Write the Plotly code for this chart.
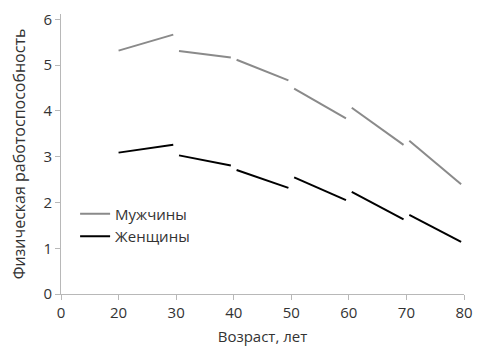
import plotly.graph_objects as go

age_labels = ["0", "20", "30", "40", "50", "60", "70", "80"]
# each segment spans one age interval: (start value, end value)
men_start = [5.32, 5.31, 5.12, 4.49, 4.07, 3.35]
men_end = [5.67, 5.17, 4.67, 3.84, 3.26, 2.40]
women_start = [3.09, 3.03, 2.71, 2.55, 2.23, 1.73]
women_end = [3.26, 2.81, 2.32, 2.05, 1.63, 1.14]

gap = 0.05


def build(starts, ends):
    xs, ys = [], []
    for i, (a, b) in enumerate(zip(starts, ends)):
        x0 = i + 1 + (0 if i == 0 else gap)
        x1 = i + 2 - gap
        xs += [x0, x1, None]
        ys += [a, b, None]
    return xs, ys


fig = go.Figure()
mx, my = build(men_start, men_end)
wx, wy = build(women_start, women_end)
fig.add_trace(go.Scatter(x=mx, y=my, mode="lines", name="Мужчины",
                         line=dict(color="#8a8a8a", width=2)))
fig.add_trace(go.Scatter(x=wx, y=wy, mode="lines", name="Женщины",
                         line=dict(color="#000000", width=2)))

font = "'Open Sans', 'Noto Sans', sans-serif"
fig.update_layout(
    width=482, height=353,
    margin=dict(l=61, r=14, t=9, b=59),
    paper_bgcolor="white", plot_bgcolor="white",
    font=dict(family=font, size=15, color="#333333"),
    showlegend=True,
    legend=dict(x=0.035, y=0.345, xanchor="left", yanchor="top",
                bgcolor="rgba(0,0,0,0)", font=dict(size=15, color="#333333"),
                itemwidth=30, tracegroupgap=0),
    xaxis=dict(
        range=[0, 7], tickmode="array", tickvals=list(range(len(age_labels))),
        ticktext=age_labels, showgrid=False, zeroline=False,
        showline=True, linecolor="#b8b8b8", linewidth=1,
        ticks="outside", ticklen=5, tickcolor="#b8b8b8",
        tickfont=dict(size=15),
        title=dict(text="Возраст, лет", standoff=10, font=dict(size=15)),
    ),
    yaxis=dict(
        range=[0, 6.12], tickvals=[0, 1, 2, 3, 4, 5, 6], showgrid=False,
        zeroline=False, showline=True, linecolor="#b8b8b8", linewidth=1,
        ticks="outside", ticklen=5, tickcolor="#b8b8b8",
        tickfont=dict(size=15),
        title=dict(text="Физическая работоспособность", standoff=13, font=dict(size=16)),
    ),
)
fig.write_html("out.html")
